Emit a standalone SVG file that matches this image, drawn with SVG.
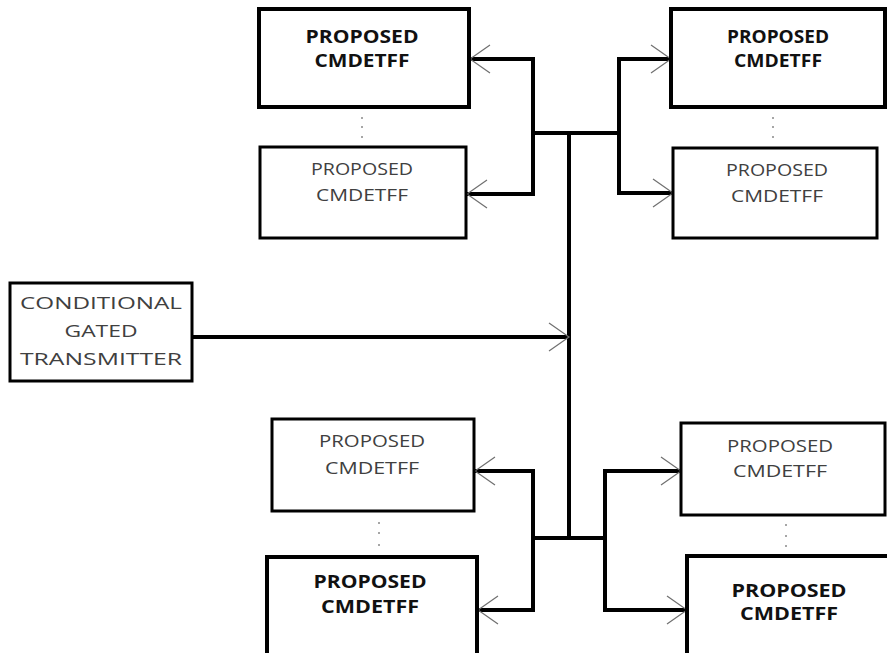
<svg xmlns="http://www.w3.org/2000/svg" width="887" height="653" viewBox="0 0 887 653">
<style>
.bg{fill:#fff}
.box{fill:#fff;stroke:#000}
.bold{stroke-width:4}
.thin{stroke-width:3}
.t{font-family:"Open Sans","DejaVu Sans","Liberation Sans",sans-serif;font-size:17px;text-anchor:middle;fill:#404040}
.tb{font-family:"Open Sans","DejaVu Sans","Liberation Sans",sans-serif;font-size:17px;font-weight:bold;text-anchor:middle;fill:#111}
.wire{fill:none;stroke:#000;stroke-width:4;stroke-linejoin:miter}
.dot{fill:#888}
</style>
<defs>
<marker id="arr" markerUnits="userSpaceOnUse" markerWidth="30" markerHeight="32" refX="22" refY="16" orient="auto">
<path d="M2,2 L22,16 L2,30" fill="none" stroke="#707070" stroke-width="1.2"/>
</marker>
</defs>
<rect class="bg" width="887" height="653"/>

<g id="connectors">
<path class="wire" d="M533,133 V59 H470" marker-end="url(#arr)"/>
<path class="wire" d="M533,133 V194 H467" marker-end="url(#arr)"/>
<path class="wire" d="M533,133 H619"/>
<path class="wire" d="M619,133 V59 H671" marker-end="url(#arr)"/>
<path class="wire" d="M619,133 V193 H673" marker-end="url(#arr)"/>
<path class="wire" d="M569,133 V538"/>
<path class="wire" d="M192,337 H569" marker-end="url(#arr)"/>
<path class="wire" d="M533,538 H605"/>
<path class="wire" d="M533,538 V471 H475" marker-end="url(#arr)"/>
<path class="wire" d="M533,538 V610 H478" marker-end="url(#arr)"/>
<path class="wire" d="M605,538 V471 H681" marker-end="url(#arr)"/>
<path class="wire" d="M605,538 V610 H687" marker-end="url(#arr)"/>
</g>

<g id="tl1">
<rect class="box bold" x="259" y="9" width="210" height="98"/>
<text class="tb" x="362" y="43" textLength="113" lengthAdjust="spacingAndGlyphs">PROPOSED</text>
<text class="tb" x="362" y="67" textLength="95" lengthAdjust="spacingAndGlyphs">CMDETFF</text>
</g>
<g id="tl-dots"><circle class="dot" cx="362" cy="118" r="1"/><circle class="dot" cx="362" cy="127" r="1"/><circle class="dot" cx="362" cy="137" r="1"/></g>
<g id="tl2">
<rect class="box thin" x="260" y="147" width="206" height="91"/>
<text class="t" x="362" y="175" textLength="102" lengthAdjust="spacingAndGlyphs">PROPOSED</text>
<text class="t" x="362" y="201" textLength="92" lengthAdjust="spacingAndGlyphs">CMDETFF</text>
</g>

<g id="tr1">
<rect class="box bold" x="671" y="9" width="214" height="98"/>
<text class="tb" x="778" y="43" textLength="102" lengthAdjust="spacingAndGlyphs">PROPOSED</text>
<text class="tb" x="778" y="67" textLength="88" lengthAdjust="spacingAndGlyphs">CMDETFF</text>
</g>
<g id="tr-dots"><circle class="dot" cx="773" cy="118" r="1"/><circle class="dot" cx="773" cy="127" r="1"/><circle class="dot" cx="773" cy="137" r="1"/></g>
<g id="tr2">
<rect class="box thin" x="673" y="148" width="204" height="90"/>
<text class="t" x="777" y="176" textLength="102" lengthAdjust="spacingAndGlyphs">PROPOSED</text>
<text class="t" x="777" y="202" textLength="92" lengthAdjust="spacingAndGlyphs">CMDETFF</text>
</g>

<g id="transmitter">
<rect class="box thin" x="10" y="283" width="182" height="98"/>
<text class="t" x="101" y="309" textLength="162" lengthAdjust="spacingAndGlyphs">CONDITIONAL</text>
<text class="t" x="101" y="337" textLength="73" lengthAdjust="spacingAndGlyphs">GATED</text>
<text class="t" x="101" y="365" textLength="162" lengthAdjust="spacingAndGlyphs">TRANSMITTER</text>
</g>

<g id="bl1">
<rect class="box thin" x="272" y="419" width="202" height="92"/>
<text class="t" x="372" y="447" textLength="106" lengthAdjust="spacingAndGlyphs">PROPOSED</text>
<text class="t" x="372" y="474" textLength="94" lengthAdjust="spacingAndGlyphs">CMDETFF</text>
</g>
<g id="bl-dots"><circle class="dot" cx="379" cy="523" r="1"/><circle class="dot" cx="379" cy="533" r="1"/><circle class="dot" cx="379" cy="545" r="1"/></g>
<g id="bl2">
<rect class="box bold" x="267" y="557" width="210" height="110"/>
<text class="tb" x="370" y="588" textLength="113" lengthAdjust="spacingAndGlyphs">PROPOSED</text>
<text class="tb" x="370" y="613" textLength="98" lengthAdjust="spacingAndGlyphs">CMDETFF</text>
</g>

<g id="br1">
<rect class="box thin" x="681" y="423" width="204" height="92"/>
<text class="t" x="780" y="452" textLength="106" lengthAdjust="spacingAndGlyphs">PROPOSED</text>
<text class="t" x="780" y="477" textLength="94" lengthAdjust="spacingAndGlyphs">CMDETFF</text>
</g>
<g id="br-dots"><circle class="dot" cx="786" cy="525" r="1"/><circle class="dot" cx="786" cy="536" r="1"/><circle class="dot" cx="786" cy="546" r="1"/></g>
<g id="br2">
<rect class="box bold" x="687" y="556" width="220" height="110"/>
<text class="tb" x="789" y="597" textLength="115" lengthAdjust="spacingAndGlyphs">PROPOSED</text>
<text class="tb" x="789" y="620" textLength="98" lengthAdjust="spacingAndGlyphs">CMDETFF</text>
</g>
</svg>
